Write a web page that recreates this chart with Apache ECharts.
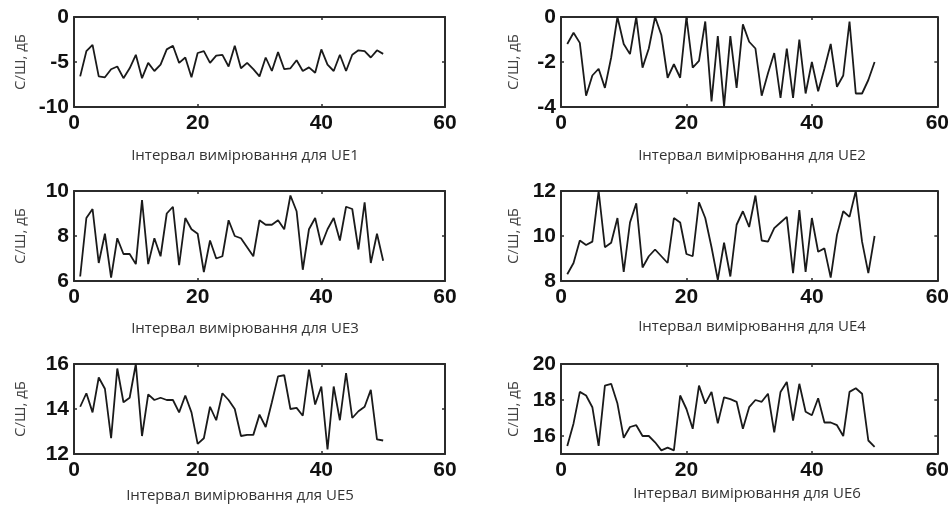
<!DOCTYPE html>
<html>
<head>
<meta charset="utf-8">
<script src="https://cdn.jsdelivr.net/npm/echarts@6/dist/echarts.min.js"></script>
<style>
  html, body { margin: 0; background: #fff; }
  #chart { width: 952px; height: 508px; }
</style>
</head>
<body>
<div id="chart"></div>
<script>
// measurement interval index (x)
const measureIdx = [1, 2, 3, 4, 5, 6, 7, 8, 9, 10, 11, 12, 13, 14, 15, 16, 17, 18, 19, 20,
  21, 22, 23, 24, 25, 26, 27, 28, 29, 30, 31, 32, 33, 34, 35, 36, 37, 38, 39, 40,
  41, 42, 43, 44, 45, 46, 47, 48, 49, 50];

// С/Ш, дБ for every UE
const snrUE1 = [-6.6, -3.8, -3.1, -6.6, -6.7, -5.8, -5.5, -6.8, -5.7, -4.2,
  -6.8, -5.1, -6.0, -5.3, -3.6, -3.2, -5.1, -4.5, -6.7, -4.0,
  -3.8, -5.1, -4.3, -4.2, -5.5, -3.2, -5.7, -5.1, -5.8, -6.6,
  -4.5, -6.0, -3.9, -5.8, -5.7, -4.8, -6.0, -5.6, -6.2, -3.6,
  -5.3, -6.0, -4.2, -6.0, -4.2, -3.7, -3.8, -4.5, -3.7, -4.1];
const snrUE2 = [-1.2, -0.7, -1.15, -3.5, -2.6, -2.3, -3.15, -1.8, 0, -1.2,
  -1.65, 0, -2.25, -1.4, 0, -0.8, -2.7, -2.1, -2.7, 0,
  -2.25, -1.95, -0.2, -3.75, -0.85, -3.97, -0.85, -3.15, -0.33, -1.1,
  -1.4, -3.5, -2.5, -1.6, -3.6, -1.4, -3.6, -1.0, -3.4, -2.0,
  -3.3, -2.3, -1.2, -3.1, -2.6, -0.2, -3.4, -3.4, -2.8, -2.0];
const snrUE3 = [6.2, 8.8, 9.2, 6.8, 8.1, 6.15, 7.9, 7.2, 7.2, 6.75,
  9.6, 6.75, 7.9, 7.1, 9.0, 9.3, 6.7, 8.8, 8.3, 8.1,
  6.4, 7.8, 7.0, 7.1, 8.7, 8.0, 7.9, 7.5, 7.1, 8.7,
  8.5, 8.5, 8.7, 8.3, 9.8, 9.1, 6.5, 8.3, 8.8, 7.6,
  8.3, 8.8, 7.8, 9.3, 9.2, 7.4, 9.5, 6.8, 8.1, 6.9];
const snrUE4 = [8.3, 8.8, 9.8, 9.6, 9.75, 12.0, 9.5, 9.7, 10.8, 8.4,
  10.6, 11.45, 8.6, 9.1, 9.4, 9.1, 8.8, 10.8, 10.6, 9.2,
  9.1, 11.5, 10.8, 9.5, 8.05, 9.7, 8.2, 10.5, 11.1, 10.4,
  11.8, 9.8, 9.75, 10.35, 10.6, 10.85, 8.35, 11.15, 8.4, 10.8,
  9.3, 9.45, 8.15, 10.05, 11.1, 10.85, 12.0, 9.75, 8.35, 10.0];
const snrUE5 = [14.1, 14.7, 13.85, 15.4, 14.9, 12.7, 15.8, 14.3, 14.5, 16.0,
  12.8, 14.65, 14.4, 14.5, 14.4, 14.4, 13.85, 14.6, 13.85, 12.45,
  12.7, 14.1, 13.5, 14.7, 14.4, 14.0, 12.8, 12.85, 12.85, 13.75,
  13.2, 14.3, 15.45, 15.5, 14.0, 14.05, 13.7, 15.75, 14.2, 15.0,
  12.2, 15.0, 13.5, 15.6, 13.6, 13.9, 14.1, 14.85, 12.65, 12.6];
const snrUE6 = [15.45, 16.7, 18.45, 18.25, 17.6, 15.45, 18.8, 18.9, 17.8, 15.9,
  16.5, 16.6, 16.0, 16.0, 15.65, 15.2, 15.35, 15.2, 18.25, 17.5,
  16.4, 18.8, 17.8, 18.45, 16.7, 18.15, 18.05, 17.9, 16.4, 17.6,
  18.0, 17.9, 18.35, 16.2, 18.45, 19.0, 16.85, 18.9, 17.35, 17.15,
  18.1, 16.75, 16.75, 16.6, 16.0, 18.45, 18.65, 18.35, 15.75, 15.4];

const ue6Ticks = [16, 18, 20];
const yName = 'С/Ш, дБ';
const xTitles = ['Інтервал вимірювання для UE1', 'Інтервал вимірювання для UE2',
  'Інтервал вимірювання для UE3', 'Інтервал вимірювання для UE4',
  'Інтервал вимірювання для UE5', 'Інтервал вимірювання для UE6'];

// layout of the 3x2 panels
const panels = [
  { data: snrUE1, left: 74,  top: 17,  yMin: -10, yMax: 0,  step: 5, tx: 245, ty: 148, gap: 46 },
  { data: snrUE2, left: 561, top: 17,  yMin: -4,  yMax: 0,  step: 2, tx: 752, ty: 148, gap: 40 },
  { data: snrUE3, left: 74,  top: 191, yMin: 6,   yMax: 10, step: 2, tx: 245, ty: 321, gap: 46 },
  { data: snrUE4, left: 561, top: 191, yMin: 8,   yMax: 12, step: 2, tx: 752, ty: 319, gap: 40 },
  { data: snrUE5, left: 74,  top: 364, yMin: 12,  yMax: 16, step: 2, tx: 240, ty: 488, gap: 46 },
  { data: snrUE6, left: 561, top: 364, yMin: 15,  yMax: 20, step: 2, tx: 747, ty: 486, gap: 40, ticks: ue6Ticks }
];

const boxLine = { show: true, onZero: false, lineStyle: { color: '#2b2b2b', width: 2 } };
const inTick = { show: true, inside: true, length: 3, lineStyle: { color: '#2b2b2b', width: 1.5 } };
const tickFont = { fontSize: 21, fontWeight: 'bold', fontFamily: 'Liberation Sans', color: '#111' };

let grids = [], xAxes = [], yAxes = [], series = [], titles = [];

panels.forEach(function (p, k) {
  const w = p.left < 300 ? 371 : 377;
  grids.push({ left: p.left, top: p.top, width: w, height: 90 });

  xAxes.push({
    gridIndex: k, type: 'value', min: 0, max: 60, interval: 20, position: 'bottom',
    axisLine: boxLine, axisTick: inTick, splitLine: { show: false },
    axisLabel: Object.assign({ margin: 6, showMinLabel: true, showMaxLabel: true }, tickFont)
  });
  xAxes.push({
    gridIndex: k, type: 'value', min: 0, max: 60, interval: 20, position: 'top',
    axisLine: boxLine, axisTick: inTick, splitLine: { show: false }, axisLabel: { show: false }
  });

  let yTick = Object.assign({}, inTick);
  let yLab = Object.assign({ margin: 5, showMinLabel: true, showMaxLabel: true }, tickFont);
  if (p.ticks) {
    yTick.customValues = p.ticks;
    yLab.customValues = p.ticks;
  }
  yAxes.push({
    gridIndex: k, type: 'value', min: p.yMin, max: p.yMax, interval: p.step, position: 'left',
    axisLine: boxLine, axisTick: yTick, axisLabel: yLab, splitLine: { show: false },
    name: yName, nameLocation: 'middle', nameGap: p.gap,
    nameTextStyle: { fontSize: 15, color: '#444', fontFamily: 'Open Sans' }
  });
  yAxes.push({
    gridIndex: k, type: 'value', min: p.yMin, max: p.yMax, interval: p.step, position: 'right',
    axisLine: boxLine, axisTick: Object.assign({}, yTick), axisLabel: { show: false }, splitLine: { show: false }
  });

  series.push({
    type: 'line', xAxisIndex: 2 * k, yAxisIndex: 2 * k,
    data: measureIdx.map(function (x, i) { return [x, p.data[i]]; }),
    symbol: 'none', lineStyle: { color: '#1a1a1a', width: 1.8 }, silent: true
  });

  titles.push({
    text: xTitles[k], left: p.tx, top: p.ty, textAlign: 'center', padding: 0,
    textStyle: { fontSize: 15, fontWeight: 'normal', color: '#333', fontFamily: 'Open Sans' }
  });
});

const chart = echarts.init(document.getElementById('chart'));
chart.setOption({
  animation: false,
  backgroundColor: '#fff',
  title: titles,
  grid: grids,
  xAxis: xAxes,
  yAxis: yAxes,
  series: series
});
</script>
</body>
</html>
